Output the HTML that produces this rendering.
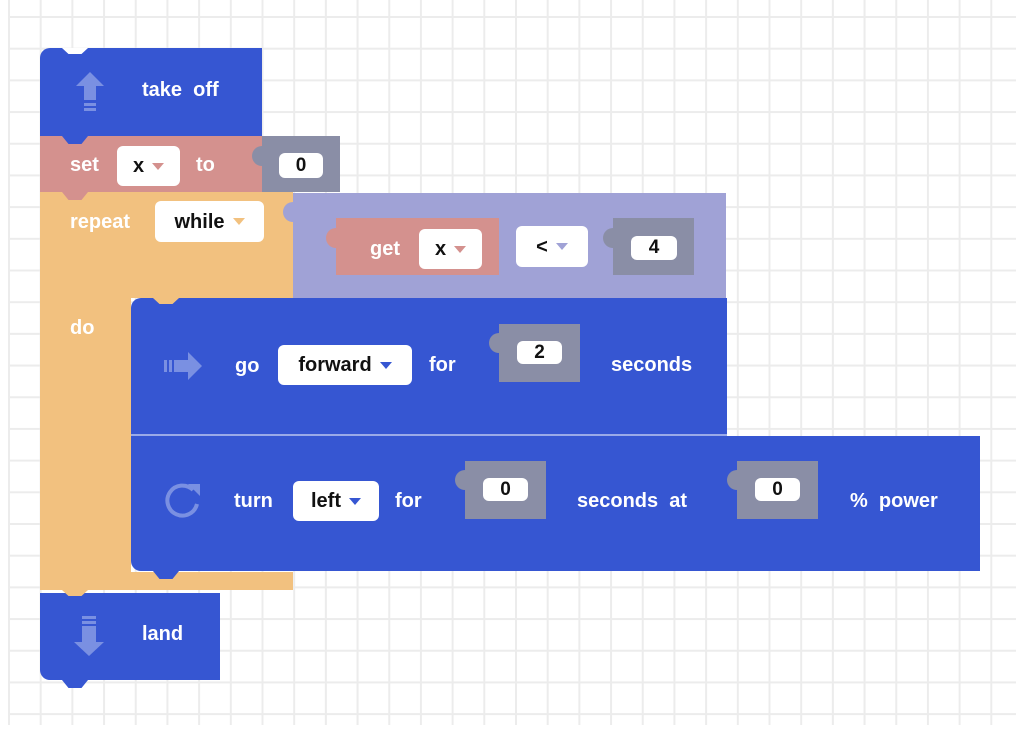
<!DOCTYPE html>
<html><head><meta charset="utf-8"><style>
body{margin:0;width:1024px;height:732px;background:#fff;position:relative;overflow:hidden;font-family:"Liberation Sans",sans-serif;}
.grid{position:absolute;left:8px;top:0;width:1008px;height:725px;
background-image:linear-gradient(to right,#ececec 2px,transparent 2px),linear-gradient(to bottom,#ececec 2px,transparent 2px);
background-size:31.7px 31.7px;background-position:0 16px;}
.b{position:absolute;}
.t{position:absolute;color:#fff;font-size:20px;font-weight:bold;white-space:nowrap;line-height:1;}
.dd{position:absolute;background:#fff;border-radius:6px;color:#111;font-size:20px;font-weight:bold;line-height:1;display:flex;align-items:center;justify-content:center;gap:8px;}
.tri{width:0;height:0;border-left:6px solid transparent;border-right:6px solid transparent;border-top:7px solid;}
.pill{position:absolute;background:#fff;border-radius:6px;color:#111;font-size:19px;font-weight:bold;display:flex;align-items:center;justify-content:center;}
.tab{position:absolute;width:10px;height:20px;border-radius:10px 0 0 10px;}
.notch{position:absolute;width:26px;height:8px;clip-path:polygon(0 0,100% 0,75% 100%,25% 100%);}
</style></head><body>
<div class="grid"></div>

<!-- repeat orange -->
<div class="b" style="left:40px;top:192px;width:253px;height:106px;background:#f2c17f"></div>
<div class="b" style="left:40px;top:298px;width:91px;height:292px;background:#f2c17f"></div>
<div class="b" style="left:40px;top:572px;width:253px;height:18px;background:#f2c17f"></div>
<div class="t" style="left:70px;top:212px">repeat</div>
<div class="dd" style="left:155px;top:201px;width:109px;height:41px">while<span class="tri" style="color:#f2c17f"></span></div>
<div class="t" style="left:70px;top:318px">do</div>

<!-- take off -->
<div class="b" style="left:40px;top:48px;width:222px;height:88px;background:#3656d2;border-radius:10px 0 0 0"></div>
<div class="notch" style="left:62px;top:48px;background:#fff;height:6px"></div>
<svg class="b" style="left:72px;top:70px" width="36" height="44"><polygon points="18,2 32,16 24,16 24,30 12,30 12,16 4,16" fill="#7a90e2"/><rect x="12" y="33" width="12" height="3" fill="#7a90e2"/><rect x="12" y="38" width="12" height="3" fill="#7a90e2"/></svg>
<div class="t" style="left:142px;top:80px">take&nbsp; off</div>

<!-- set -->
<div class="b" style="left:40px;top:136px;width:222px;height:56px;background:#d4918e"></div>
<div class="notch" style="left:62px;top:136px;background:#3656d2"></div>
<div class="t" style="left:70px;top:155px">set</div>
<div class="dd" style="left:117px;top:146px;width:63px;height:40px">x<span class="tri" style="color:#d4918e"></span></div>
<div class="t" style="left:196px;top:155px">to</div>
<div class="b" style="left:262px;top:136px;width:78px;height:56px;background:#8a8ea6"></div>
<div class="tab" style="left:252px;top:146px;background:#8a8ea6"></div>
<div class="pill" style="left:279px;top:153px;width:44px;height:25px">0</div>
<div class="notch" style="left:62px;top:192px;background:#d4918e"></div>

<!-- purple condition -->
<div class="b" style="left:293px;top:193px;width:433px;height:105px;background:#a0a2d6"></div>
<div class="tab" style="left:283px;top:202px;background:#a0a2d6"></div>
<div class="b" style="left:336px;top:218px;width:163px;height:57px;background:#d4918e"></div>
<div class="tab" style="left:326px;top:228px;background:#d4918e"></div>
<div class="t" style="left:370px;top:239px">get</div>
<div class="dd" style="left:419px;top:229px;width:63px;height:40px">x<span class="tri" style="color:#d4918e"></span></div>
<div class="dd" style="left:516px;top:226px;width:72px;height:41px">&lt;<span class="tri" style="color:#a0a2d6"></span></div>
<div class="b" style="left:613px;top:218px;width:81px;height:57px;background:#8a8ea6"></div>
<div class="tab" style="left:603px;top:228px;background:#8a8ea6"></div>
<div class="pill" style="left:631px;top:236px;width:46px;height:24px">4</div>

<!-- go forward -->
<div class="b" style="left:131px;top:298px;width:596px;height:137px;background:#3656d2;border-radius:10px 0 0 0"></div>
<div class="notch" style="left:153px;top:298px;background:#f2c17f;height:6px"></div>
<svg class="b" style="left:162px;top:350px" width="44" height="32"><rect x="2" y="10" width="3" height="12" fill="#7a90e2"/><rect x="7" y="10" width="3" height="12" fill="#7a90e2"/><polygon points="12,10 26,10 26,2 40,16 26,30 26,22 12,22" fill="#7a90e2"/></svg>
<div class="t" style="left:235px;top:356px">go</div>
<div class="dd" style="left:278px;top:345px;width:134px;height:40px">forward<span class="tri" style="color:#3656d2"></span></div>
<div class="t" style="left:429px;top:355px">for</div>
<div class="b" style="left:499px;top:324px;width:81px;height:58px;background:#8a8ea6"></div>
<div class="tab" style="left:489px;top:333px;background:#8a8ea6"></div>
<div class="pill" style="left:517px;top:341px;width:45px;height:23px">2</div>
<div class="t" style="left:611px;top:355px">seconds</div>
<div class="b" style="left:131px;top:434px;width:596px;height:2px;background:#9aaae8"></div>

<!-- turn -->
<div class="b" style="left:131px;top:436px;width:849px;height:135px;background:#3656d2;border-radius:0 0 0 10px"></div>
<div class="notch" style="left:153px;top:436px;background:#3656d2"></div>
<svg class="b" style="left:162px;top:480px" width="42" height="42"><path d="M31 10 A15 15 0 1 0 35 24" fill="none" stroke="#7a90e2" stroke-width="4"/><polygon points="26,4 38,4 38,16" fill="#7a90e2"/></svg>
<div class="t" style="left:234px;top:491px">turn</div>
<div class="dd" style="left:293px;top:481px;width:86px;height:40px">left<span class="tri" style="color:#3656d2"></span></div>
<div class="t" style="left:395px;top:491px">for</div>
<div class="b" style="left:465px;top:461px;width:81px;height:58px;background:#8a8ea6"></div>
<div class="tab" style="left:455px;top:470px;background:#8a8ea6"></div>
<div class="pill" style="left:483px;top:478px;width:45px;height:23px">0</div>
<div class="t" style="left:577px;top:491px">seconds&nbsp; at</div>
<div class="b" style="left:737px;top:461px;width:81px;height:58px;background:#8a8ea6"></div>
<div class="tab" style="left:727px;top:470px;background:#8a8ea6"></div>
<div class="pill" style="left:755px;top:478px;width:45px;height:23px">0</div>
<div class="t" style="left:850px;top:491px">%&nbsp; power</div>
<div class="notch" style="left:153px;top:571px;background:#3656d2"></div>

<!-- land -->
<div class="b" style="left:40px;top:593px;width:180px;height:87px;background:#3656d2;border-radius:0 0 0 10px"></div>
<div class="notch" style="left:62px;top:590px;background:#f2c17f;height:6px"></div>
<svg class="b" style="left:74px;top:614px" width="32" height="44"><rect x="8" y="2" width="14" height="3" fill="#7a90e2"/><rect x="8" y="7" width="14" height="3" fill="#7a90e2"/><polygon points="8,12 22,12 22,28 30,28 15,42 0,28 8,28" fill="#7a90e2"/></svg>
<div class="t" style="left:142px;top:624px">land</div>
<div class="notch" style="left:62px;top:680px;background:#3656d2"></div>
</body></html>
